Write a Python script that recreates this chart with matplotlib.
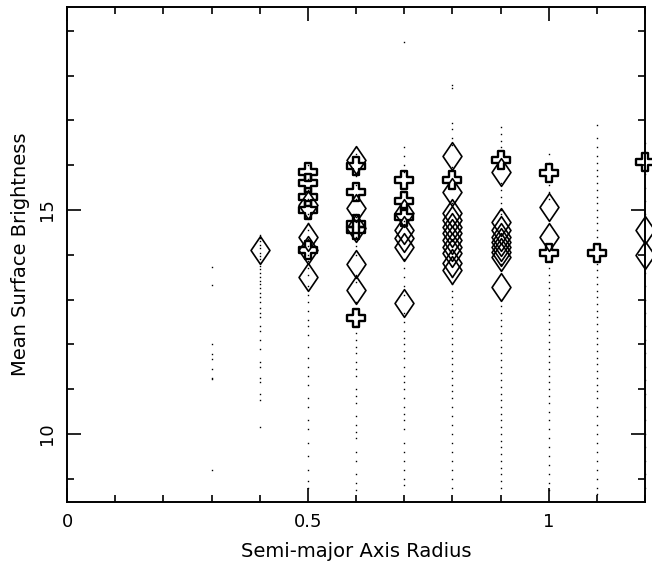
import numpy as np
import matplotlib
matplotlib.use("Agg")
import matplotlib.pyplot as plt
from matplotlib.path import Path
from matplotlib.ticker import MultipleLocator

# Profile samples (dots) at each semi-major axis radius
dot_radius = [0.3, 0.4, 0.5, 0.6, 0.7, 0.8, 0.9, 1.0, 1.1, 1.2]
dot_values = {
    0.3: [13.73, 13.33, 12.01, 11.79, 11.67, 11.45, 11.25, 11.23, 9.20],
    0.4: [14.45, 14.38, 14.30, 14.22, 14.15, 14.05, 13.98, 13.90, 13.82, 13.75,
          13.68, 13.60, 13.50, 13.42, 13.35, 13.25, 13.15, 13.05, 12.95, 12.82,
          12.70, 12.60, 12.42, 12.30, 12.10, 11.90, 11.60, 11.50, 11.25, 11.15,
          10.90, 10.75, 10.15],
    0.5: [16.00, 15.70, 15.45, 15.25, 15.10, 14.90, 14.70, 14.55, 14.35, 14.20,
          14.00, 13.85, 13.70, 13.55, 13.30, 13.10, 12.95, 12.75, 12.55, 12.40,
          12.20, 11.95, 11.70, 11.50, 11.30, 11.10, 10.80, 10.60, 10.30, 10.10,
          9.80, 9.50, 9.20, 8.95, 8.80],
    0.6: [16.40, 16.25, 15.75, 15.55, 15.25, 14.85, 14.40, 14.20, 14.00, 13.55,
          13.40, 12.95, 12.80, 12.40, 12.25, 12.10, 11.95, 11.80, 11.60, 11.45,
          11.30, 11.00, 10.85, 10.70, 10.40, 10.20, 10.05, 9.90, 9.60, 9.40,
          9.10, 8.90, 8.75],
    0.7: [18.75, 16.40, 16.20, 16.00, 15.85, 15.40, 14.75, 13.90, 13.70, 13.50,
          13.30, 13.10, 12.70, 12.50, 12.30, 12.15, 12.00, 11.85, 11.70, 11.50,
          11.30, 11.15, 11.00, 10.80, 10.60, 10.45, 10.30, 10.10, 9.80, 9.60,
          9.40, 9.20, 9.00, 8.85],
    0.8: [17.80, 17.72, 16.95, 16.80, 16.60, 16.45, 15.95, 15.15, 13.50, 13.35,
          13.20, 13.05, 12.90, 12.75, 12.60, 12.45, 12.30, 12.15, 12.00, 11.85,
          11.70, 11.55, 11.40, 11.25, 11.10, 10.95, 10.80, 10.60, 10.40, 10.20,
          10.00, 9.80, 9.60, 9.40, 9.20, 9.00, 8.80],
    0.9: [16.85, 16.70, 16.55, 16.40, 15.60, 15.45, 15.30, 15.15, 15.00, 14.90,
          13.80, 13.65, 13.00, 12.85, 12.70, 12.55, 12.40, 12.25, 12.10, 11.95,
          11.80, 11.65, 11.50, 11.35, 11.20, 11.05, 10.90, 10.75, 10.60, 10.45,
          10.30, 10.15, 10.00, 9.85, 9.70, 9.55, 9.40, 9.25, 9.10, 8.95, 8.80],
    1.0: [16.25, 16.05, 15.55, 15.40, 15.25, 13.85, 13.70, 13.55, 13.40, 13.25,
          13.10, 12.95, 12.80, 12.65, 12.50, 12.35, 12.20, 12.05, 11.90, 11.75,
          11.60, 11.45, 11.30, 11.15, 11.00, 10.85, 10.70, 10.50, 10.30, 10.10,
          9.90, 9.70, 9.50, 9.30, 9.10, 8.90, 8.75],
    1.1: [16.90, 16.60, 16.40, 16.20, 16.05, 15.90, 15.75, 15.60, 15.45, 15.30,
          15.15, 15.00, 14.85, 14.70, 14.55, 14.40, 14.25, 13.80, 13.65, 13.50,
          13.35, 13.20, 13.05, 12.90, 12.75, 12.60, 12.45, 12.30, 12.15, 12.00,
          11.85, 11.70, 11.55, 11.40, 11.25, 11.10, 10.95, 10.80, 10.60, 10.40,
          10.20, 10.00, 9.80, 9.60, 9.40, 9.20, 9.00, 8.80, 8.65],
    1.2: [16.50, 16.30, 15.80, 15.50, 15.20, 14.90, 13.60, 13.30, 13.00, 12.70,
          12.40, 12.10, 11.80, 11.50, 11.20, 10.90, 10.60, 10.30, 10.00, 9.70,
          9.40, 9.10, 8.80],
}

# Isophote fits of the first kind (diamonds)
diamond_x = [0.4,
             0.5, 0.5, 0.5, 0.5,
             0.6, 0.6, 0.6, 0.6, 0.6,
             0.7, 0.7, 0.7, 0.7, 0.7,
             0.8, 0.8, 0.8, 0.8, 0.8, 0.8, 0.8, 0.8, 0.8, 0.8, 0.8,
             0.9, 0.9, 0.9, 0.9, 0.9, 0.9, 0.9, 0.9, 0.9,
             1.0, 1.0,
             1.2, 1.2]
diamond_y = [14.11,
             15.10, 14.40, 14.10, 13.50,
             16.12, 15.04, 14.60, 13.80, 13.21,
             14.93, 14.55, 14.37, 14.18, 12.92,
             16.20, 15.40, 14.93, 14.78, 14.62, 14.49, 14.33, 14.17, 14.04, 13.82, 13.65,
             15.85, 14.74, 14.55, 14.40, 14.29, 14.18, 14.07, 13.96, 13.29,
             15.07, 14.39,
             14.55, 14.00]

# Isophote fits of the second kind (crosses)
cross_x = [0.5, 0.5, 0.5, 0.5, 0.5,
           0.6, 0.6, 0.6, 0.6, 0.6,
           0.7, 0.7, 0.7,
           0.8,
           0.9,
           1.0, 1.0,
           1.1,
           1.2]
cross_y = [15.85, 15.60, 15.30, 15.00, 14.10,
           15.97, 15.41, 14.68, 14.55, 12.58,
           15.67, 15.19, 14.84,
           15.67,
           16.12,
           15.82, 14.03,
           14.04,
           16.06]

# Marker outlines
diamond_path = Path([(0, 1), (0.68, 0), (0, -1), (-0.68, 0), (0, 1)],
                    [Path.MOVETO, Path.LINETO, Path.LINETO, Path.LINETO, Path.CLOSEPOLY])
a = 0.36
cross_verts = [(-a, 1), (a, 1), (a, a), (1, a), (1, -a), (a, -a), (a, -1),
               (-a, -1), (-a, -a), (-1, -a), (-1, a), (-a, a), (-a, 1)]
cross_path = Path(cross_verts, [Path.MOVETO] + [Path.LINETO] * 11 + [Path.CLOSEPOLY])

fig = plt.figure(figsize=(6.52, 5.71), dpi=100)
ax = fig.add_axes([0.1028, 0.1208, 0.8865, 0.8669])

for r in dot_radius:
    vals = dot_values[r]
    ax.plot([r] * len(vals), vals, linestyle="none", marker="s", markersize=1.0,
            color="black", markeredgewidth=0, clip_on=False)

ax.plot(diamond_x, diamond_y, linestyle="none", marker=diamond_path, markersize=20,
        markerfacecolor="none", markeredgecolor="black", markeredgewidth=1.2, clip_on=False)
ax.plot(cross_x, cross_y, linestyle="none", marker=cross_path, markersize=13.5,
        markerfacecolor="none", markeredgecolor="black", markeredgewidth=1.7, clip_on=False)

ax.set_xlim(0, 1.2)
ax.set_ylim(8.48, 19.53)

ax.xaxis.set_minor_locator(MultipleLocator(0.1))
ax.yaxis.set_minor_locator(MultipleLocator(1))
ax.set_xticks([0, 0.5, 1])
ax.set_xticklabels(["0", "0.5", "1"])
ax.set_yticks([10, 15])
ax.set_yticklabels(["10", "15"], rotation=90, va="center")

ax.tick_params(which="both", direction="in", top=True, right=True, width=1.2,
               colors="black", labelsize=13)
ax.tick_params(which="major", length=10, pad=8)
ax.tick_params(which="minor", length=5)
for s in ax.spines.values():
    s.set_linewidth(1.4)

ax.set_xlabel("Semi-major Axis Radius", fontsize=14, labelpad=8)
ax.set_ylabel("Mean Surface Brightness", fontsize=14, labelpad=6)

fig.savefig("out.png", dpi=100)
